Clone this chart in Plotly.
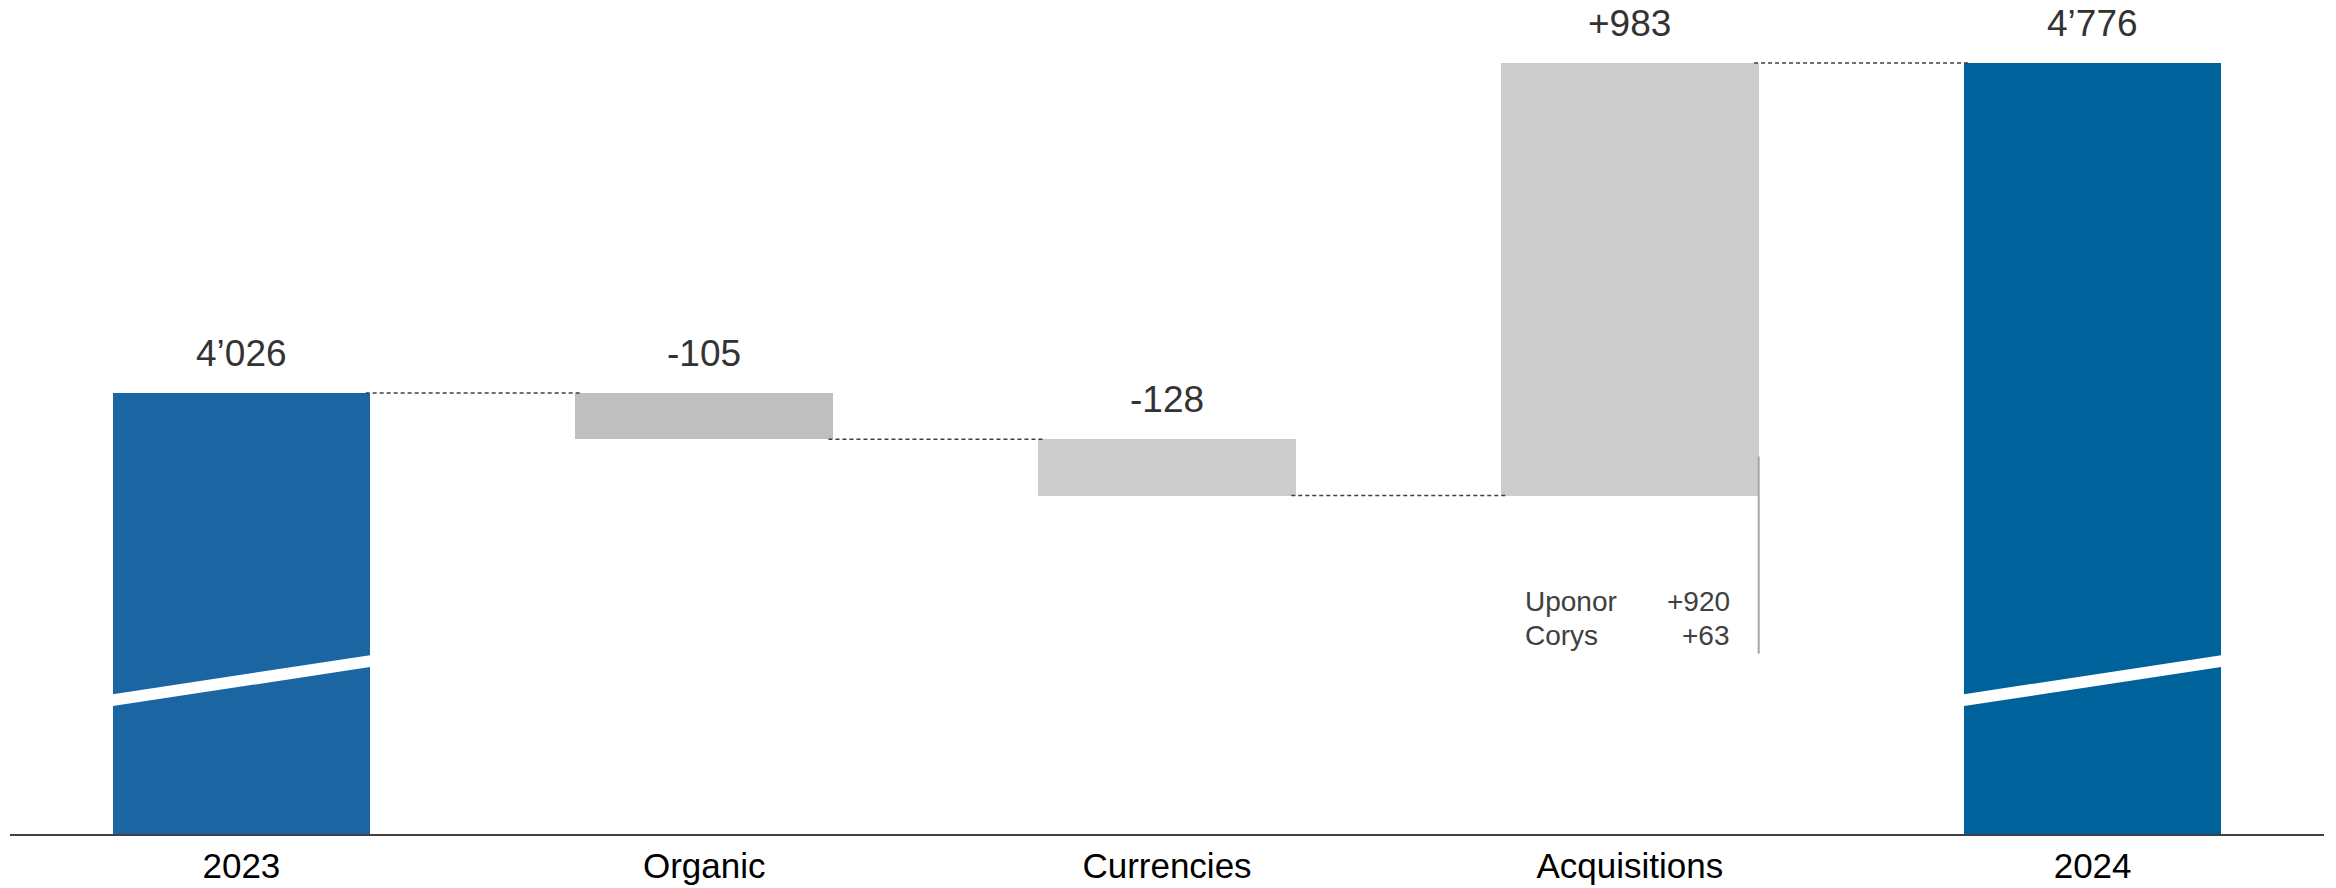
import plotly.graph_objects as go

# ---------------- data ----------------
categories = ["2023", "Organic", "Currencies", "Acquisitions", "2024"]
values = [4026, -105, -128, 983, 4776]
measures = ["total", "relative", "relative", "relative", "total"]
value_labels = ["4’026", "-105", "-128", "+983", "4’776"]
bar_colors = ["#1B65A2", "#BFBFBF", "#CCCCCC", "#CCCCCC", "#00629B"]
detail_names = ["Uponor", "Corys"]
detail_values = ["+920", "+63"]

# ---------------- layout constants ----------------
FONT = "Liberation Sans, Arial, Helvetica, sans-serif"
BAR_W = 0.557
Y_MIN, Y_MAX = 3024, 4901  # broken axis (bars start at zero)
# the page body adds an 8px margin, so the figure is 8px smaller
W, H = 2328, 880
ML, MR, MT, MB = 2, 12, 0, 54
PX_PER_UNIT = (H - MT - MB) / (Y_MAX - Y_MIN)

# ---------------- waterfall geometry ----------------
bases, heights, levels = [], [], []
running = 0
for v, m in zip(values, measures):
    if m == "total":
        bases.append(0)
        heights.append(v)
        running = v
    else:
        new = running + v
        bases.append(min(running, new))
        heights.append(abs(v))
        running = new
    levels.append(running)

x_idx = list(range(len(categories)))

fig = go.Figure()
fig.add_trace(go.Bar(
    x=x_idx, y=heights, base=bases, width=BAR_W,
    marker=dict(color=bar_colors, line=dict(width=0)),
    hoverinfo="skip", showlegend=False,
))

# dashed connectors
cx, cy = [], []
for i in range(len(categories) - 1):
    cx += [i + BAR_W / 2 - 0.01, i + 1 - BAR_W / 2 + 0.01, None]
    cy += [levels[i], levels[i], None]
fig.add_trace(go.Scatter(
    x=cx, y=cy, mode="lines",
    line=dict(color="#404040", width=1.5, dash="4px,3px"),
    hoverinfo="skip", showlegend=False,
))

annotations = []
# value labels above each bar
for i, lab in enumerate(value_labels):
    top = bases[i] + heights[i]
    annotations.append(dict(
        x=i, y=top, xref="x", yref="y", text=lab, showarrow=False,
        yanchor="middle", yshift=40,
        font=dict(family=FONT, size=37, color="#333333"),
    ))

# acquisitions breakdown
acq = categories.index("Acquisitions")
acq_bottom = bases[acq]
row_px = [106, 140]  # below the bar bottom
for name, val, off in zip(detail_names, detail_values, row_px):
    yv = acq_bottom - off / PX_PER_UNIT
    annotations.append(dict(
        x=acq - 0.23, y=yv, xref="x", yref="y", text=name, showarrow=False,
        xanchor="left", yanchor="middle",
        font=dict(family=FONT, size=28, color="#404040"),
    ))
    annotations.append(dict(
        x=acq + 0.221, y=yv, xref="x", yref="y", text=val, showarrow=False,
        xanchor="right", yanchor="middle",
        font=dict(family=FONT, size=28, color="#404040"),
    ))

shapes = []
# vertical bracket line at the right edge of the acquisitions bar
shapes.append(dict(
    type="line", xref="x", yref="y",
    x0=acq + BAR_W / 2, x1=acq + BAR_W / 2,
    y0=acq_bottom + 39 / PX_PER_UNIT, y1=acq_bottom - 158 / PX_PER_UNIT,
    line=dict(color="#A6A6A6", width=2),
))

# axis-break marks on the total bars
BREAK_L, BREAK_R, BREAK_T = 3340, 3432, 27
for i, m in enumerate(measures):
    if m != "total":
        continue
    xl = i - BAR_W / 2 - 0.01
    xr = i + BAR_W / 2 + 0.01
    path = (f"M {xl},{BREAK_L} L {xr},{BREAK_R} "
            f"L {xr},{BREAK_R - BREAK_T} L {xl},{BREAK_L - BREAK_T} Z")
    shapes.append(dict(type="path", xref="x", yref="y", path=path,
                       fillcolor="white", line=dict(width=0)))

fig.update_layout(
    width=W, height=H,
    margin=dict(l=ML, r=MR, t=MT, b=MB),
    paper_bgcolor="white", plot_bgcolor="white",
    bargap=0,
    annotations=annotations, shapes=shapes,
    xaxis=dict(
        range=[-0.5, len(categories) - 0.5],
        tickmode="array", tickvals=x_idx, ticktext=categories,
        showline=True, linecolor="#404040", linewidth=2,
        showgrid=False, zeroline=False, ticks="",
        tickfont=dict(family=FONT, size=35, color="#000000"),
        fixedrange=True,
    ),
    yaxis=dict(range=[Y_MIN, Y_MAX], visible=False, showgrid=False,
               zeroline=False, fixedrange=True),
    showlegend=False,
)

fig.write_html("out.html", config={"displayModeBar": False})
